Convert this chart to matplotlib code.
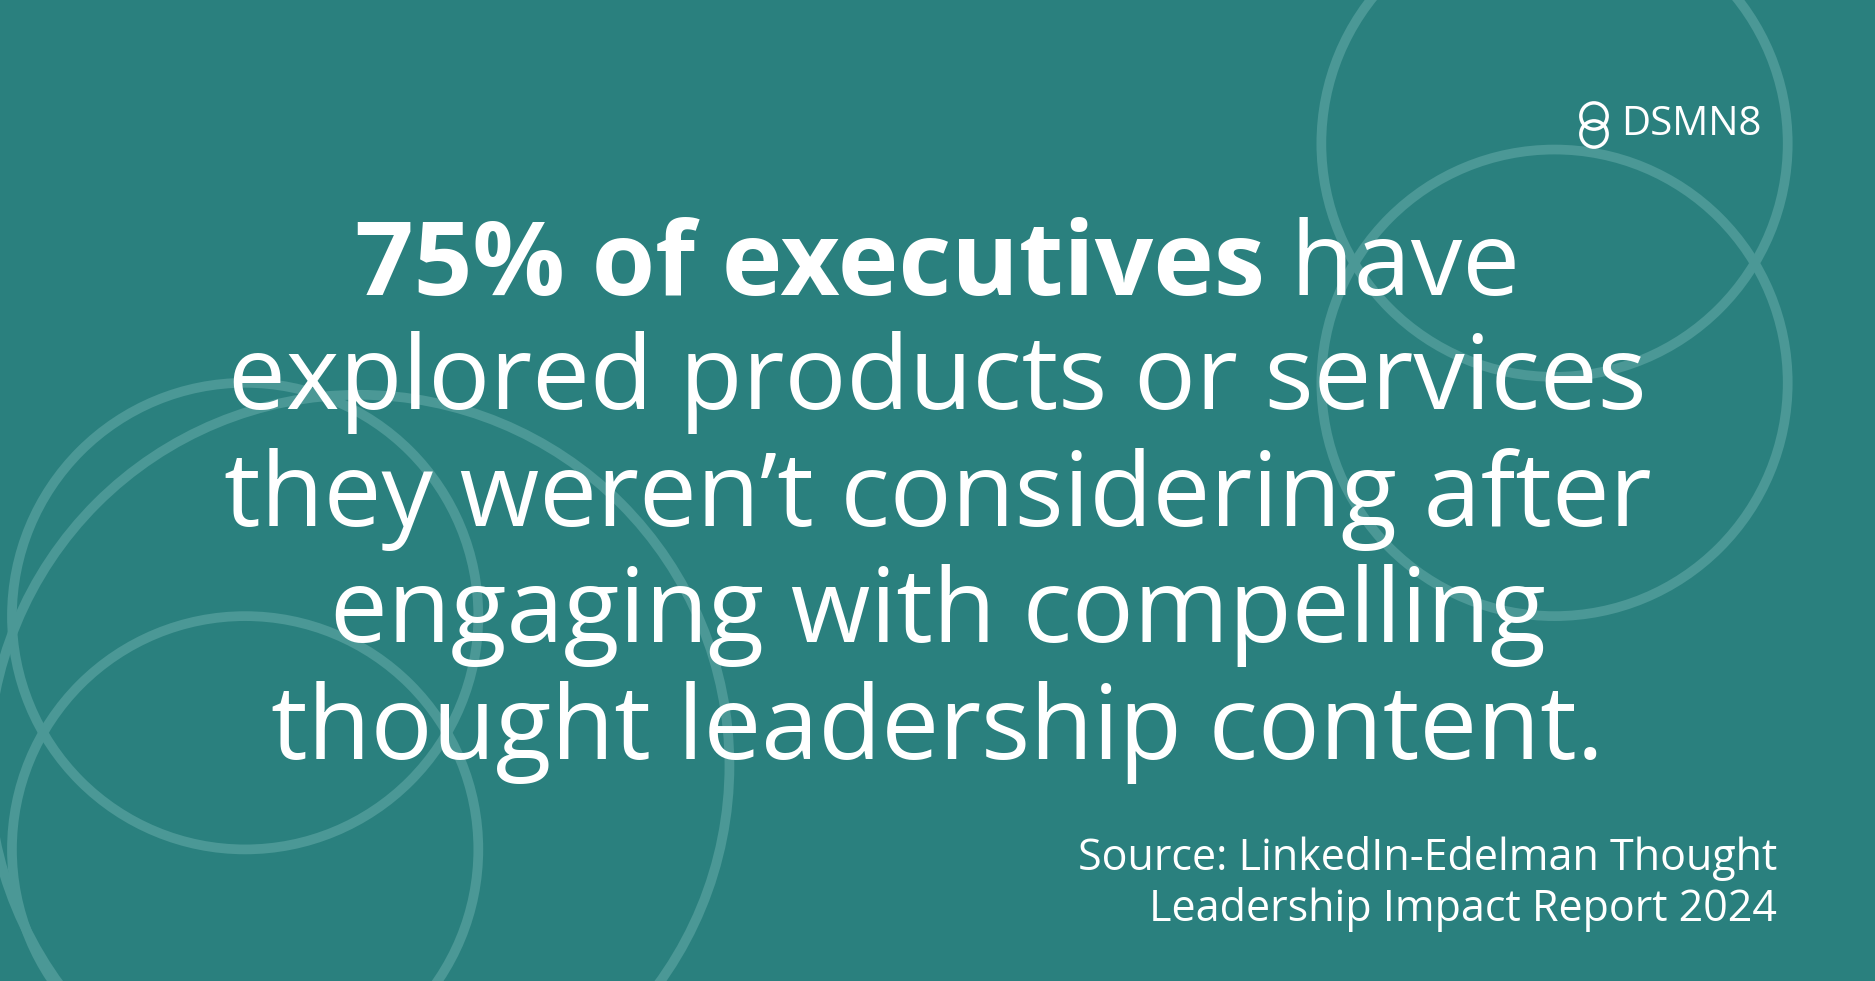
import matplotlib.pyplot as plt
from matplotlib.patches import Circle

plt.rcParams['font.family'] = ['Open Sans', 'DejaVu Sans']

bg = "#2a807e"
ring = "#4b9896"

headline_bold = "75% of executives"
headline_rest = [" have",
                 "explored products or services",
                 "they weren\u2019t considering after",
                 "engaging with compelling",
                 "thought leadership content."]
source_lines = ["Source: LinkedIn-Edelman Thought",
                "Leadership Impact Report 2024"]
brand = "DSMN8"

fig = plt.figure(figsize=(18.75, 9.81), dpi=100)
fig.patch.set_facecolor(bg)
ax = fig.add_axes([0, 0, 1, 1])
ax.set_xlim(0, 1568)
ax.set_ylim(820, 0)
ax.axis("off")
ax.set_facecolor(bg)

# decorative rings (x, y, r)
rings = [(1300, 120, 195), (1300, 320, 195),
         (205, 515, 195), (205, 710, 195), (300, 640, 310)]
for cx, cy, r in rings:
    ax.add_patch(Circle((cx, cy), r, fill=False, ec=ring, lw=7))

fs = 74
cx = 784
t1 = ax.text(0, 247, headline_bold, fontsize=fs, fontweight="bold", color="white",
             ha="left", va="baseline")
t2 = ax.text(0, 247, headline_rest[0], fontsize=fs, color="white",
             ha="left", va="baseline")
fig.canvas.draw()
r = fig.canvas.get_renderer()
scale = 1568 / fig.bbox.width
w1 = t1.get_window_extent(r).width * scale
w2 = t2.get_window_extent(r).width * scale
x0 = cx - (w1 + w2) / 2
t1.set_x(x0)
t2.set_x(x0 + w1)
for i, line in enumerate(headline_rest[1:]):
    ax.text(cx, 342 + i * 97.5, line, fontsize=fs, color="white",
            ha="center", va="baseline")

for i, line in enumerate(source_lines):
    ax.text(1486, 727 + i * 43, line, fontsize=31, color="white",
            ha="right", va="baseline")

# logo
ax.add_patch(Circle((1333, 97), 11, fill=False, ec="white", lw=2.5))
ax.add_patch(Circle((1333, 112), 11, fill=False, ec="white", lw=2.5))
ax.text(1356, 104, brand, fontsize=29, color="white", ha="left", va="center")

fig.savefig("out.png", dpi=100, facecolor=bg)
